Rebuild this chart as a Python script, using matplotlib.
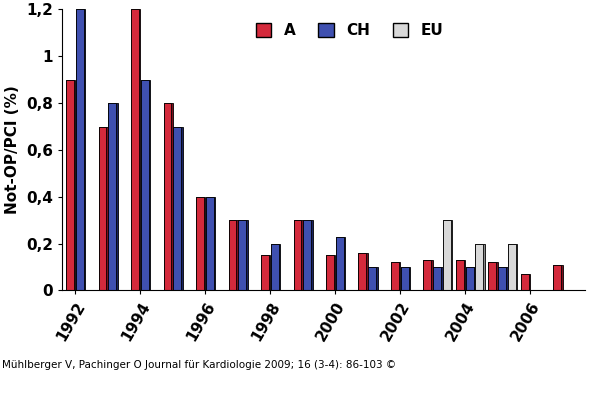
import matplotlib
matplotlib.use("Agg")
import matplotlib.pyplot as plt
import numpy as np

years = list(range(1992, 2008))
A  = [0.9, 0.7, 1.2, 0.8, 0.4, 0.3, 0.15, 0.3, 0.15, 0.16, 0.12, 0.13, 0.13, 0.12, 0.07, 0.11]
CH = [1.2, 0.8, 0.9, 0.7, 0.4, 0.3, 0.2, 0.3, 0.23, 0.1, 0.1, 0.1, 0.1, 0.1, 0, 0]
EU = [0, 0, 0, 0, 0, 0, 0, 0, 0, 0, 0, 0.3, 0.2, 0.2, 0, 0]
yticks = [0, 0.2, 0.4, 0.6, 0.8, 1, 1.2]
yticklabels = ["0", "0,2", "0,4", "0,6", "0,8", "1", "1,2"]

fig = plt.figure(figsize=(6, 4.13), dpi=100)
ax = fig.add_axes([0.103, 0.297, 0.872, 0.68])
x = np.arange(len(years))
w = 0.24
sw = 0.05
for vals, off, face, side in [(A, -0.3, "#d42a3c", "#7a0f1c"),
                              (CH, 0.0, "#3f50b0", "#1a2260"),
                              (EU, 0.3, "#d9d9d9", "#8a8a8a")]:
    v = np.array(vals)
    m = v > 0
    ax.bar(x[m] + off + sw / 2, v[m], w + sw, color=side, edgecolor="black", lw=0.6, align="center")
    ax.bar(x[m] + off, v[m], w, color=face, edgecolor="black", lw=0.6, align="center")
ax.set_ylim(0, 1.2)
ax.set_xlim(-0.55, len(years) - 0.45)
ax.set_yticks(yticks)
ax.set_yticklabels(yticklabels, fontsize=11, fontweight="bold")
ax.set_xticks(x[::2] - 0.15)
ax.set_xticklabels([str(y) for y in years[::2]], rotation=60, ha="right",
                   rotation_mode="anchor", fontsize=11, fontweight="bold")
ax.set_ylabel("Not-OP/PCI (%)", fontsize=11, fontweight="bold")
for s in ["top", "right"]:
    ax.spines[s].set_visible(False)
ax.tick_params(length=3)

from matplotlib.patches import Patch
handles = [Patch(fc="#d42a3c", ec="black"), Patch(fc="#3f50b0", ec="black"), Patch(fc="#d9d9d9", ec="black")]
ax.legend(handles, ["A", "CH", "EU"], loc="upper center", bbox_to_anchor=(0.55, 1.0), ncol=3,
          frameon=False, prop={"weight": "bold", "size": 11}, handlelength=1, handleheight=1,
          columnspacing=1.5)
fig.text(0.003, 0.11, "Mühlberger V, Pachinger O Journal für Kardiologie 2009; 16 (3-4): 86-103 ©",
         fontsize=7.5, family="DejaVu Sans")
fig.savefig("out.png", dpi=100)
